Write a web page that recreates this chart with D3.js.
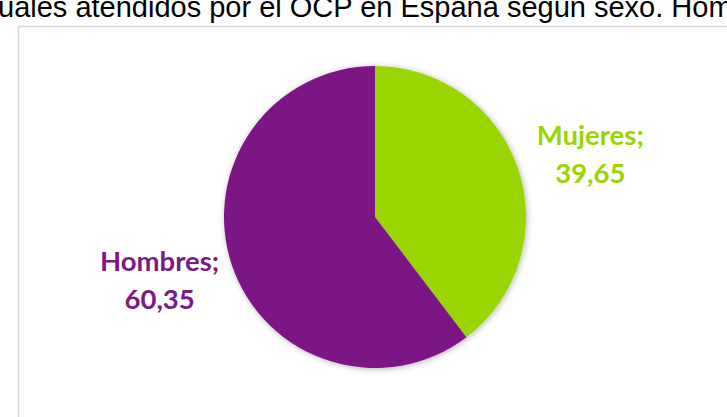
<!DOCTYPE html>
<html>
<head>
<meta charset="utf-8">
<script src="https://cdn.jsdelivr.net/npm/d3@7"></script>
<style>
  html, body { margin: 0; padding: 0; background: #fff; }
  svg { display: block; }
</style>
</head>
<body>
<svg id="chart" width="727" height="417"></svg>
<script>
// Data
const titleText = "uales atendidos por el OCP en España según sexo. Hom";
const categories = ["Mujeres", "Hombres"];
const values = [39.65, 60.35];
const colors = ["#99d500", "#7b1985"];

const W = 727, H = 417;
const svg = d3.select("#chart");

// Soft drop shadow for the pie
const defs = svg.append("defs");
const f = defs.append("filter").attr("id", "shadow")
  .attr("x", "-20%").attr("y", "-20%").attr("width", "140%").attr("height", "140%");
f.append("feGaussianBlur").attr("in", "SourceAlpha").attr("stdDeviation", 3).attr("result", "b");
f.append("feOffset").attr("in", "b").attr("dx", 1).attr("dy", 1).attr("result", "o");
f.append("feComponentTransfer").attr("in", "o").attr("result", "s")
  .append("feFuncA").attr("type", "linear").attr("slope", 0.3);
const m = f.append("feMerge");
m.append("feMergeNode").attr("in", "s");
m.append("feMergeNode").attr("in", "SourceGraphic");

// Chart frame
svg.append("rect")
  .attr("x", 18.5).attr("y", 26.5)
  .attr("width", W + 20).attr("height", H + 20)
  .attr("fill", "#fff")
  .attr("stroke", "#d9d9d9").attr("stroke-width", 1.5);

// Title (runs past the page edges)
svg.append("text")
  .attr("x", -2).attr("y", 17)
  .attr("font-family", "Liberation Sans, Arial, sans-serif")
  .attr("font-size", 29)
  .attr("fill", "#000")
  .text(titleText);

const cx = 375, cy = 217, r = 151;
const g = svg.append("g").attr("transform", `translate(${cx},${cy})`);

const pie = d3.pie().sort(null).value(d => d.value);
const data = pie(categories.map((c, i) => ({ name: c, value: values[i], color: colors[i] })));
const arc = d3.arc().innerRadius(0).outerRadius(r);

g.append("g").attr("filter", "url(#shadow)")
  .selectAll("path").data(data).join("path")
  .attr("d", arc)
  .attr("fill", d => d.data.color);

// Data labels outside the slices, on a slightly flattened ring,
// each two-line block centred on its anchor
const labelArc = d3.arc().innerRadius(225).outerRadius(225);
const fmt = v => v.toFixed(2).replace(".", ",");
const labels = g.selectAll("text.lbl").data(data).join("text")
  .attr("class", "lbl")
  .attr("transform", d => {
    const [x, y] = labelArc.centroid(d);
    return `translate(${x * 1.01},${y * 0.88})`;
  })
  .attr("text-anchor", "middle")
  .attr("font-family", "Lato, 'Open Sans', sans-serif")
  .attr("font-weight", "bold")
  .attr("font-size", 27.5)
  .attr("fill", d => d.data.color);
labels.append("tspan").attr("x", 0).attr("dy", "-0.33em").text(d => d.data.name + ";");
labels.append("tspan").attr("x", 0).attr("dy", "1.38em").text(d => fmt(d.data.value));
</script>
</body>
</html>
